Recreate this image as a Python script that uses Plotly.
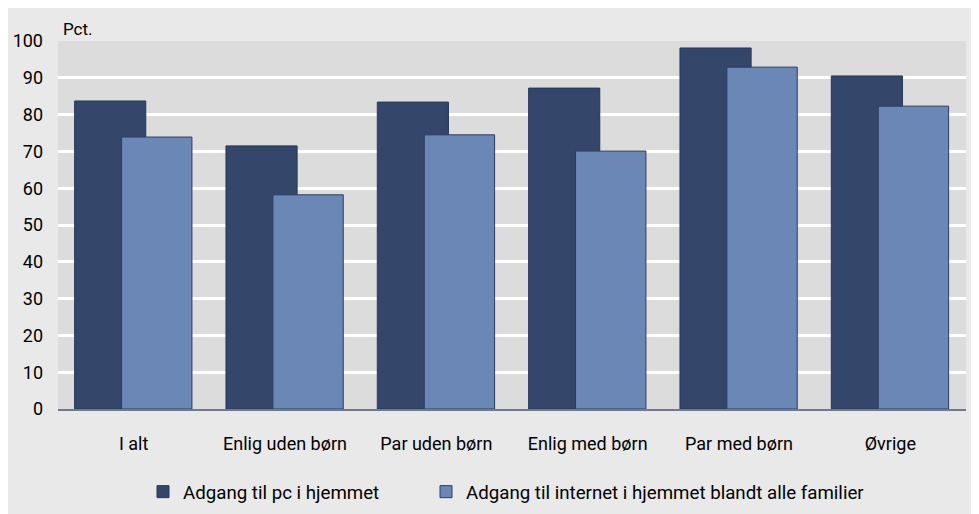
import plotly.graph_objects as go

categories = ["I alt", "Enlig uden børn", "Par uden børn", "Enlig med børn", "Par med børn", "Øvrige"]
pc_values = [83.7, 71.5, 83.4, 87.2, 98.1, 90.5]
internet_values = [73.9, 58.2, 74.5, 70.1, 92.9, 82.3]
series_names = ["Adgang til pc i hjemmet", "Adgang til internet i hjemmet blandt alle familier"]
y_ticks = [0, 10, 20, 30, 40, 50, 60, 70, 80, 90, 100]

FONT = "Roboto"
W, H = 979, 514
ML, MR, MT, MB = 50, 21, 33, 113
PW = W - ML - MR
PH = H - MT - MB

fig = go.Figure()
fig.add_trace(go.Bar(
    x=categories, y=pc_values, name=series_names[0], legend="legend",
    width=0.47, offset=-0.39,
    marker=dict(color="#34476b", line=dict(color="#27365a", width=1)),
))
fig.add_trace(go.Bar(
    x=categories, y=internet_values, name=series_names[1], legend="legend2",
    width=0.465, offset=-0.08,
    marker=dict(color="#6b87b6", line=dict(color="#2c3c5e", width=1)),
))

leg_common = dict(orientation="h", yanchor="middle", y=-83 / PH, xanchor="left",
                  font=dict(size=18.7, family=FONT, color="#000000"), bgcolor="rgba(0,0,0,0)",
                  borderwidth=0)

fig.update_layout(
    width=W, height=H,
    margin=dict(l=ML, r=MR, t=MT, b=MB, pad=0, autoexpand=False),
    barmode="overlay",
    paper_bgcolor="#e9e9e9",
    plot_bgcolor="#dcdcdc",
    font=dict(family=FONT, size=18, color="#000000"),
    showlegend=True,
    legend=dict(leg_common, x=(175 - 40 - ML) / PW),
    legend2=dict(leg_common, x=(458 - 40 - ML) / PW),
    xaxis=dict(showgrid=False, showline=True, linecolor="#707a8a", linewidth=1.5,
               ticks="", ticklabelstandoff=18, tickfont=dict(size=18, family=FONT),
               range=[-0.5, 5.5], fixedrange=True, automargin=False),
    yaxis=dict(range=[0, 100], tickvals=y_ticks, showgrid=True, gridcolor="#ffffff", gridwidth=2.5,
               zeroline=False, ticks="", ticklabelstandoff=14, automargin=False,
               tickfont=dict(size=18, family=FONT), fixedrange=True),
    annotations=[dict(text="Pct.", xref="paper", yref="paper", x=3 / PW, y=1, xanchor="left",
                      yanchor="bottom", yshift=0, showarrow=False, font=dict(size=17, family=FONT))],
)

fig.write_html("out.html")
